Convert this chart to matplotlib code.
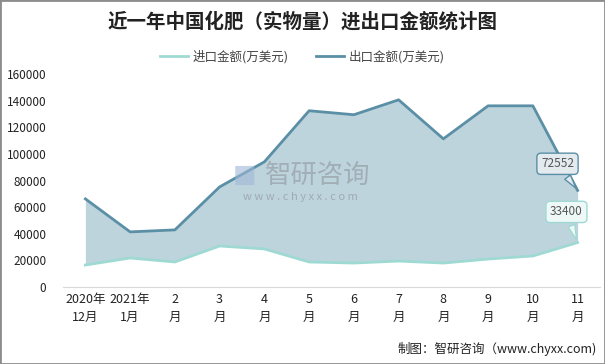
import numpy as np
import matplotlib
matplotlib.use("Agg")
import matplotlib.pyplot as plt
from matplotlib.patches import Rectangle

plt.rcParams['font.family'] = ['Noto Sans CJK SC', 'DejaVu Sans']

months = ['2020年\n12月', '2021年\n1月', '2\n月', '3\n月', '4\n月', '5\n月',
          '6\n月', '7\n月', '8\n月', '9\n月', '10\n月', '11\n月']
imports = [16500, 21800, 18800, 30800, 28600, 18800, 18000, 19500, 18000, 21000, 23300, 33400]
exports = [66200, 41400, 42900, 75200, 94000, 132400, 129400, 140600, 111300, 136100, 136100, 72552]
yticks = [0, 20000, 40000, 60000, 80000, 100000, 120000, 140000, 160000]

c_imp = '#9fd9d3'
c_exp = '#5b8fa6'
c_fill = '#bed4dd'

fig = plt.figure(figsize=(6.05, 3.64), dpi=100)
ax = fig.add_axes([63/605, 1-287/364, 537/605, 213/364])

x = np.arange(len(months))
ax.fill_between(x, imports, exports, color=c_fill, lw=0, zorder=1)
ax.plot(x, imports, color=c_imp, lw=2, label='进口金额(万美元)', zorder=3)
ax.plot(x, exports, color=c_exp, lw=2, label='出口金额(万美元)', zorder=3)

ax.set_xlim(-0.5, len(months) - 0.5)
ax.set_ylim(0, 160000)
ax.set_yticks(yticks)
ax.set_yticklabels([str(v) for v in yticks], fontsize=8.5, color='#222222')
ax.set_xticks(x)
ax.set_xticklabels(months, fontsize=9, color='#222222', linespacing=1.5)
ax.tick_params(axis='both', length=0, pad=4)
ax.tick_params(axis='y', pad=12)
for s in ['left', 'right', 'top']:
    ax.spines[s].set_visible(False)
ax.spines['bottom'].set_color('#d9d9d9')

# callouts on the last point
ax.annotate(str(exports[-1]), xy=(x[-1], exports[-1]), xytext=(x[-1] - 0.45, exports[-1] + 20000),
            fontsize=8.5, color='#555555', ha='center', va='center',
            bbox=dict(boxstyle='round,pad=0.35', fc='#e4ebef', ec=c_exp, lw=1),
            arrowprops=dict(arrowstyle='wedge,tail_width=0.6', fc='#e4ebef', ec=c_exp, lw=1),
            zorder=5)
ax.annotate(str(imports[-1]), xy=(x[-1], imports[-1]), xytext=(x[-1] - 0.25, imports[-1] + 23000),
            fontsize=8.5, color='#555555', ha='center', va='center',
            bbox=dict(boxstyle='round,pad=0.35', fc='#eef8f7', ec=c_imp, lw=1),
            arrowprops=dict(arrowstyle='wedge,tail_width=0.6', fc='#eef8f7', ec=c_imp, lw=1),
            zorder=5)

fig.text(0.5, 1-22/364, '近一年中国化肥（实物量）进出口金额统计图', ha='center', va='center',
         fontsize=14, fontweight='bold', color='#222222')
fig.legend(loc='center', bbox_to_anchor=(0.5, 1-57/364), ncol=2, frameon=False,
           fontsize=9, handlelength=2.2, columnspacing=2.2, handletextpad=0.4,
           labelcolor='#444444')

# watermark
fig.text(245/605, 1-175/364, '■', ha='center', va='center', fontsize=18,
         color='#9fb6d6', alpha=0.6, family='DejaVu Sans')
fig.text(318/605, 1-175/364, '智研咨询', ha='center', va='center', fontsize=19,
         color='#8a8f96', alpha=0.55)
fig.text(300/605, 1-197/364, 'w w w . c h y x x . c o m', ha='center', va='center',
         fontsize=8, color='#8a8f96', alpha=0.6)

fig.text(597/605, 1-349/364, '制图：智研咨询（www.chyxx.com)', ha='right', va='center',
         fontsize=9, color='#222222')

fig.patches.append(Rectangle((0, 0), 1, 1, transform=fig.transFigure, fill=False,
                             ec='#8c8c8c', lw=2))

fig.savefig('out.png', dpi=100)
